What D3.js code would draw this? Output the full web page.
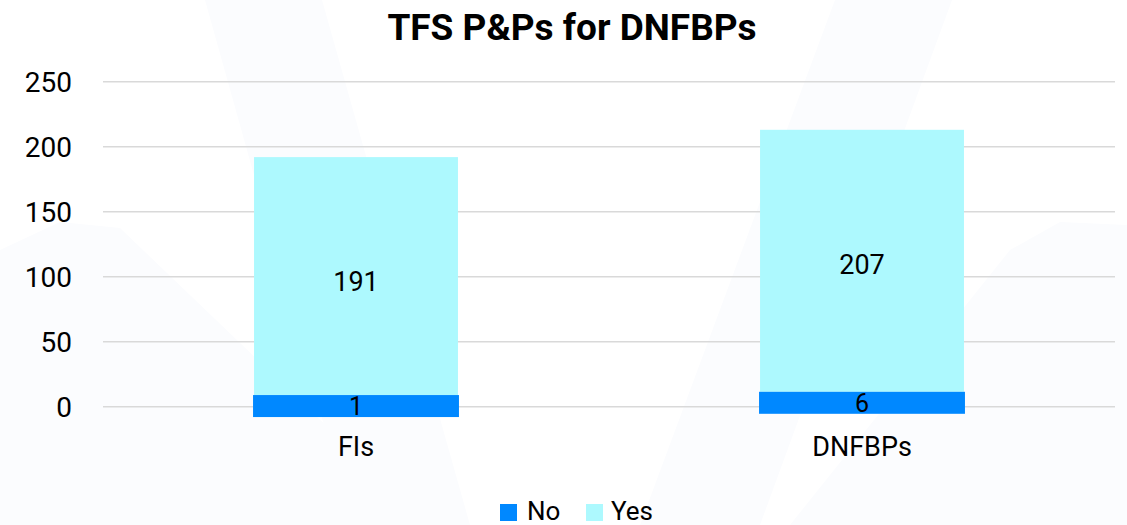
<!DOCTYPE html>
<html>
<head>
<meta charset="utf-8">
<script src="https://cdn.jsdelivr.net/npm/d3@7"></script>
<style>
  html, body { margin: 0; padding: 0; background: #ffffff; }
  svg { display: block; font-family: Roboto, "Noto Sans", sans-serif; }
</style>
</head>
<body>
<svg id="chart" width="1127" height="525"></svg>
<script>
// ---- data ----
const categories = ["FIs", "DNFBPs"];
const seriesNames = ["No", "Yes"];
const noValues = [1, 6];
const yesValues = [191, 207];
const yTicks = [0, 50, 100, 150, 200, 250];
const chartTitle = "TFS P&Ps for DNFBPs";

// ---- styling ----
const colors = { No: "#0088ff", Yes: "#adf9fe" };
const W = 1127, H = 525;
const plot = { left: 103, right: 1115, top: 81.7, bottom: 406.7 };
const minNoHeight = 22;

const svg = d3.select("#chart");
svg.append("rect").attr("width", W).attr("height", H).attr("fill", "#ffffff");

// faint watermark shapes
const wm = svg.append("g").attr("fill", "#fbfcfe");
const wmShapes = [
  [[205,0],[322,0],[470,525],[352,525]],
  [[835,0],[952,0],[760,525],[640,525]],
  [[0,250],[60,222],[120,228],[430,525],[0,525]],
  [[1127,225],[1060,222],[1010,250],[790,525],[1127,525]]
];
wmShapes.forEach(p => wm.append("path").attr("d", d3.line().curve(d3.curveLinearClosed)(p)));

const rows = categories.map((c, i) => ({ category: c, No: noValues[i], Yes: yesValues[i] }));
const stacked = d3.stack().keys(seriesNames)(rows);

const x = d3.scaleBand().domain(categories).range([plot.left, plot.right])
  .paddingInner(0.597).paddingOuter(0.2985);
const y = d3.scaleLinear().domain([0, 250]).range([plot.bottom, plot.top]);

// gridlines
svg.append("g").selectAll("line").data(yTicks).join("line")
  .attr("x1", plot.left).attr("x2", plot.right)
  .attr("y1", d => y(d)).attr("y2", d => y(d))
  .attr("stroke", "#d9d9d9").attr("stroke-width", 1.6);

// y axis labels
const yAxis = d3.axisLeft(y).tickValues(yTicks).tickSize(0).tickPadding(0);
const yg = svg.append("g").attr("transform", "translate(72,0)").call(yAxis);
yg.select(".domain").remove();
yg.selectAll("text").attr("font-size", 28).attr("fill", "#000").attr("font-family", "Roboto").attr("dy", "0.35em");

// x axis labels
const xAxis = d3.axisBottom(x).tickSize(0).tickPadding(0);
const xg = svg.append("g").attr("transform", "translate(0,456)").call(xAxis);
xg.select(".domain").remove();
xg.selectAll("text").attr("font-size", 27).attr("fill", "#000").attr("font-family", "Roboto").attr("dy", 0);

// bars
const noSeries = stacked[0], yesSeries = stacked[1];
const noRect = noSeries.map(d => {
  const mid = y((d[0] + d[1]) / 2);
  const h = Math.max(y(d[0]) - y(d[1]), minNoHeight);
  return { cat: d.data.category, top: mid - h / 2, h: h, mid: mid, v: d.data.No };
});
svg.append("g").selectAll("rect").data(yesSeries).join("rect")
  .attr("x", d => x(d.data.category))
  .attr("width", x.bandwidth())
  .attr("y", d => y(d[1]))
  .attr("height", (d, i) => noRect[i].top - y(d[1]))
  .attr("fill", colors.Yes);
svg.append("g").selectAll("rect").data(noRect).join("rect")
  .attr("x", d => x(d.cat) - 1)
  .attr("width", x.bandwidth() + 2)
  .attr("y", d => d.top)
  .attr("height", d => d.h)
  .attr("fill", colors.No);

// data labels
svg.append("g").selectAll("text").data(yesSeries).join("text")
  .attr("x", d => x(d.data.category) + x.bandwidth() / 2)
  .attr("y", d => y((d[0] + d[1]) / 2))
  .attr("dy", "0.35em").attr("text-anchor", "middle")
  .attr("font-size", 27).attr("fill", "#000")
  .text(d => d.data.Yes);
svg.append("g").selectAll("text").data(noRect).join("text")
  .attr("x", d => x(d.cat) + x.bandwidth() / 2)
  .attr("y", d => d.mid)
  .attr("dy", "0.35em").attr("text-anchor", "middle")
  .attr("font-size", 25).attr("fill", "#000")
  .text(d => d.v);

// title
svg.append("text").attr("x", 572).attr("y", 40).attr("text-anchor", "middle")
  .attr("font-size", 37).attr("font-weight", "bold").attr("fill", "#000")
  .text(chartTitle);

// legend
const legendItems = [{ name: "No", sx: 500, tx: 527 }, { name: "Yes", sx: 586, tx: 611 }];
const lg = svg.append("g");
legendItems.forEach(it => {
  lg.append("rect").attr("x", it.sx).attr("y", 504).attr("width", 17).attr("height", 17).attr("fill", colors[it.name]);
  lg.append("text").attr("x", it.tx).attr("y", 520).attr("font-size", 26).attr("fill", "#000").text(it.name);
});
</script>
</body>
</html>
